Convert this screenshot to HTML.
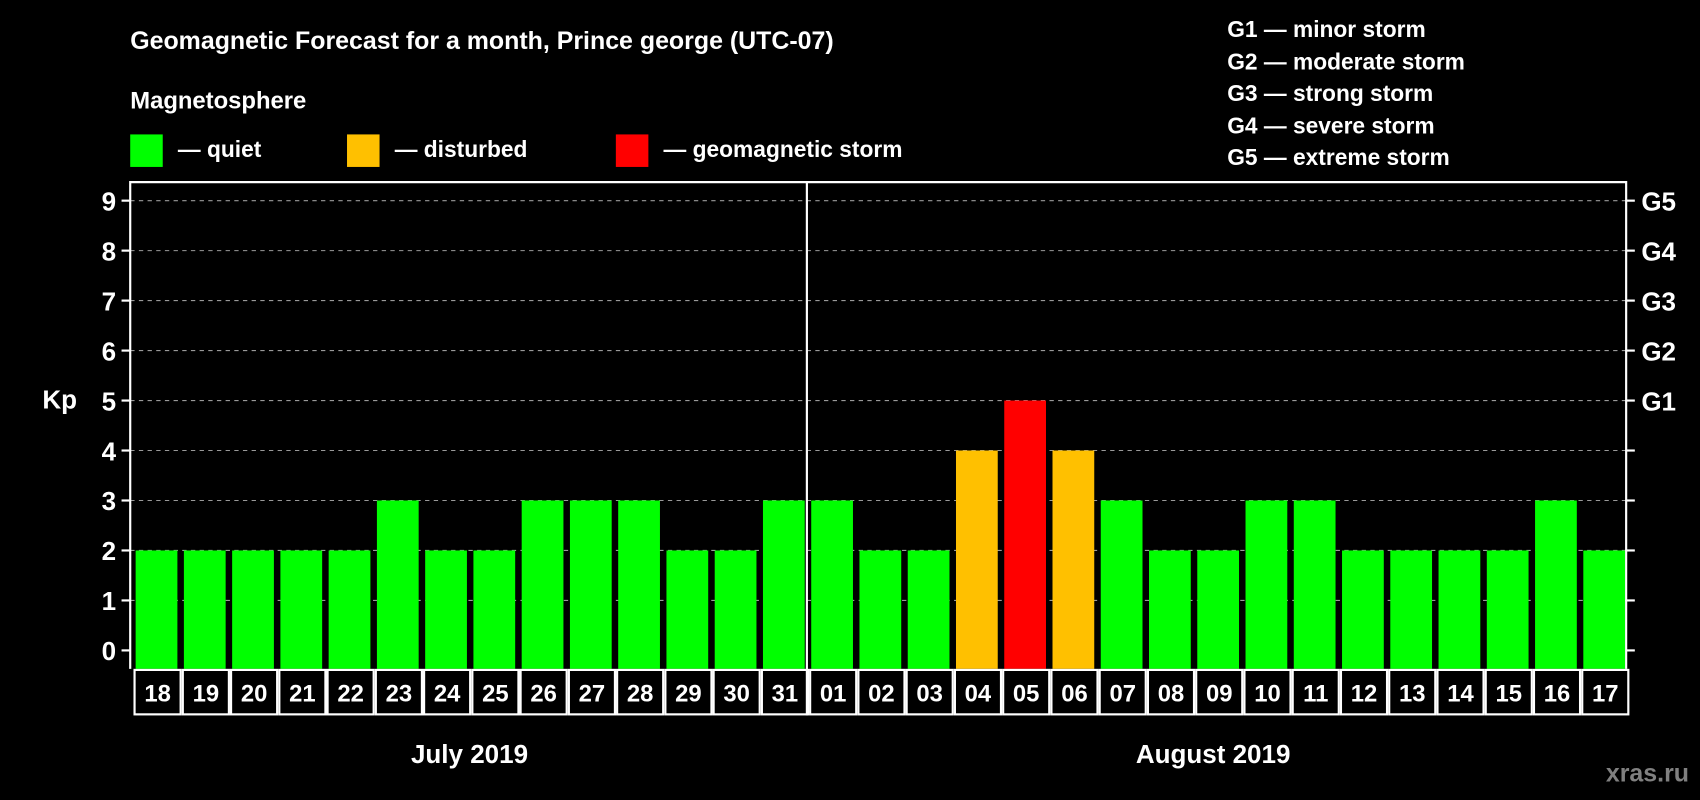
<!DOCTYPE html>
<html><head><meta charset="utf-8"><style>
html,body{margin:0;padding:0;background:#000;width:1700px;height:800px;overflow:hidden}
svg{display:block}
text{font-family:"Liberation Sans",Arial,sans-serif;font-weight:bold;fill:#fff}
</style></head><body>
<svg id="chart" width="1700" height="800" viewBox="0 0 1568 738" xmlns="http://www.w3.org/2000/svg">
<rect width="1568" height="738" fill="#000"/>
<text x="120" y="45" font-size="23">Geomagnetic Forecast for a month, Prince george (UTC-07)</text>
<text x="120" y="100" font-size="22">Magnetosphere</text>
<g>
<rect x="120" y="124" width="30" height="30" fill="#00ff00"/>
<text x="164" y="145" font-size="21">— quiet</text>
<rect x="320" y="124" width="30" height="30" fill="#ffc000"/>
<text x="364" y="145" font-size="21">— disturbed</text>
<rect x="568" y="124" width="30" height="30" fill="#ff0000"/>
<text x="612" y="145" font-size="21">— geomagnetic storm</text>
</g>
<g font-size="21">
<text x="1132" y="34">G1 — minor storm</text>
<text x="1132" y="64">G2 — moderate storm</text>
<text x="1132" y="93">G3 — strong storm</text>
<text x="1132" y="123">G4 — severe storm</text>
<text x="1132" y="152">G5 — extreme storm</text>
</g>
<text x="39" y="377" font-size="24">Kp</text>
<g id="plot"></g>
<text x="433" y="704" font-size="24" text-anchor="middle">July 2019</text>
<text x="1119" y="704" font-size="24" text-anchor="middle">August 2019</text>
<text x="1558" y="721" font-size="23" text-anchor="end" fill="#7f7f7f" style="fill:#808080">xras.ru</text>
</svg>
<script>
const days=["18","19","20","21","22","23","24","25","26","27","28","29","30","31","01","02","03","04","05","06","07","08","09","10","11","12","13","14","15","16","17"];
const kpValues=[2,2,2,2,2,3,2,2,3,3,3,2,2,3,3,2,2,4,5,4,3,2,2,3,3,2,2,2,2,3,2];
const yTicks=[0,1,2,3,4,5,6,7,8,9];
const gLabels=["G1","G2","G3","G4","G5"];
const gLevels=[5,6,7,8,9];
const NS="http://www.w3.org/2000/svg";
const L=120,R=1500,T=168,B=617,LB=660;
const y=v=>600-v*46.1;
const pitch=(R-L)/days.length;
const x=i=>L+i*pitch;
const g=document.getElementById('plot');
function mk(t,a){const e=document.createElementNS(NS,t);for(const k in a)e.setAttribute(k,a[k]);g.appendChild(e);return e;}
yTicks.forEach(v=>{
 if(v>0){const gl=mk('line',{x1:L,x2:R,y1:y(v),y2:y(v),stroke:'#9a9a9a','stroke-width':1,'stroke-dasharray':'4,4'});
 
 }
 const tl=mk('line',{x1:L-8,x2:L,y1:y(v),y2:y(v),stroke:'#fff','stroke-width':2});
 
 
 const tr=mk('line',{x1:R,x2:R+8,y1:y(v),y2:y(v),stroke:'#fff','stroke-width':2});
 
 
 const t=mk('text',{x:L-13,y:y(v)+9,'font-size':24,'text-anchor':'end'});t.textContent=v;
 
 
});
gLabels.forEach((s,i)=>{const t=mk('text',{x:R+14,y:y(gLevels[i])+9,'font-size':24});t.textContent=s;
 
 });
const col=v=>v>=5?'#ff0000':v>=4?'#ffc000':'#00ff00';
days.forEach((d,i)=>{
 const b=mk('rect',{x:x(i)+5,y:y(kpValues[i]),width:pitch-6,height:B-y(kpValues[i]),fill:col(kpValues[i])});
 
 
 const c=mk('rect',{x:x(i)+4,y:B+1,width:pitch-2,height:LB-B-2,fill:'none',stroke:'#fff','stroke-width':2});
 
 
 const t=mk('text',{x:x(i)+3+pitch/2,y:B+30,'font-size':22,'text-anchor':'middle'});t.textContent=d;
 
 
});
const fr=mk('path',{d:`M${L},${B} V${T} H${R} V${B}`,fill:'none',stroke:'#fff','stroke-width':2});


const ms=mk('line',{x1:x(14)+1,x2:x(14)+1,y1:T,y2:LB,stroke:'#fff','stroke-width':2});


</script>
</body></html>
